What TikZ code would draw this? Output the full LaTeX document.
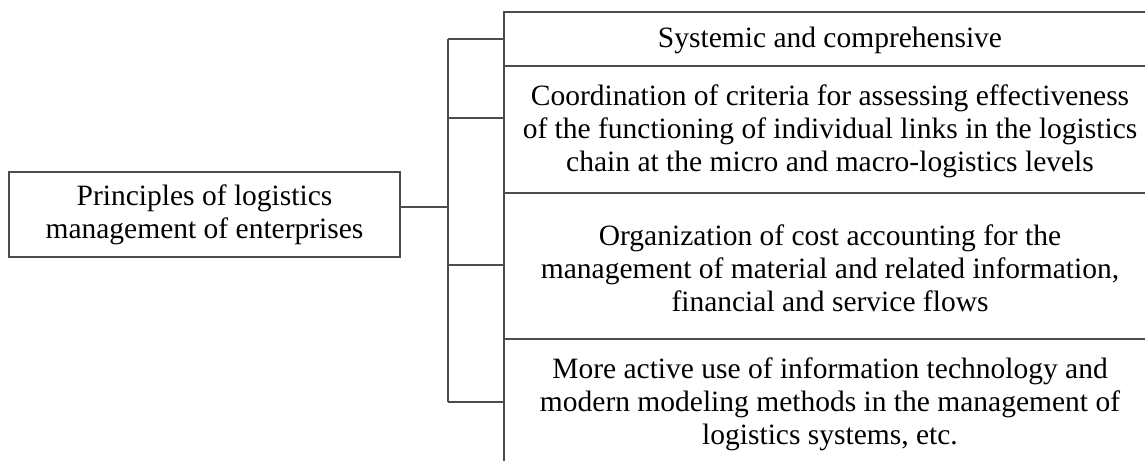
\documentclass[tikz,border=0pt]{standalone}
\usepackage{fontspec}
\setmainfont{Liberation Serif}
\usetikzlibrary{positioning}

\begin{document}
\begin{tikzpicture}[x=0.5pt,y=-0.5pt,
		frame/.style={
			draw=black!70,
			line width=0.6pt,
		},
		boxtxt/.style={
			align=center,
			inner sep=0pt,
			font=\fontsize{14.75}{16.4}\selectfont,
		}]
		\useasboundingbox (0,0) rectangle (1145,461);
		\def\xb{448}; \def\xc{504}; \def\xr{1145}; \def\xt{830};
		
		% left box
		\node[frame, boxtxt, minimum width=195.5pt, minimum height=42.5pt] (prin) at (204.5,214.5) {Principles of logistics\\management of enterprises};
		
		% right column
		\draw[frame] (\xc,461) -- (\xc,12) -- (\xr,12);
		\foreach \y in {66,193,339}
			\draw[frame] (\xc,\y) -- (\xr,\y);
		
		\node[boxtxt] (sys) at (\xt,40) {Systemic and comprehensive};
		\node[boxtxt] (coord) at (\xt,131) {Coordination of criteria for assessing effectiveness\\of the functioning of individual links in the logistics\\chain at the micro and macro-logistics levels};
		\node[boxtxt] (cost) at (\xt,268) {Organization of cost accounting for the\\management of material and related information,\\financial and service flows};
		\node[boxtxt] (itech) at (\xt,404) {More active use of information technology and\\modern modeling methods in the management of\\logistics systems, etc.};
		
		% bracket
		\coordinate (hub) at (\xb,207);
		\draw[frame] (prin.east |- hub) -- (hub);
		\draw[frame] (\xb,39) -- (\xb,402);
		\foreach \y in {39,118,265,402}
			\draw[frame] (\xb,\y) -- (\xc,\y);
		
	\end{tikzpicture}
\end{document}
